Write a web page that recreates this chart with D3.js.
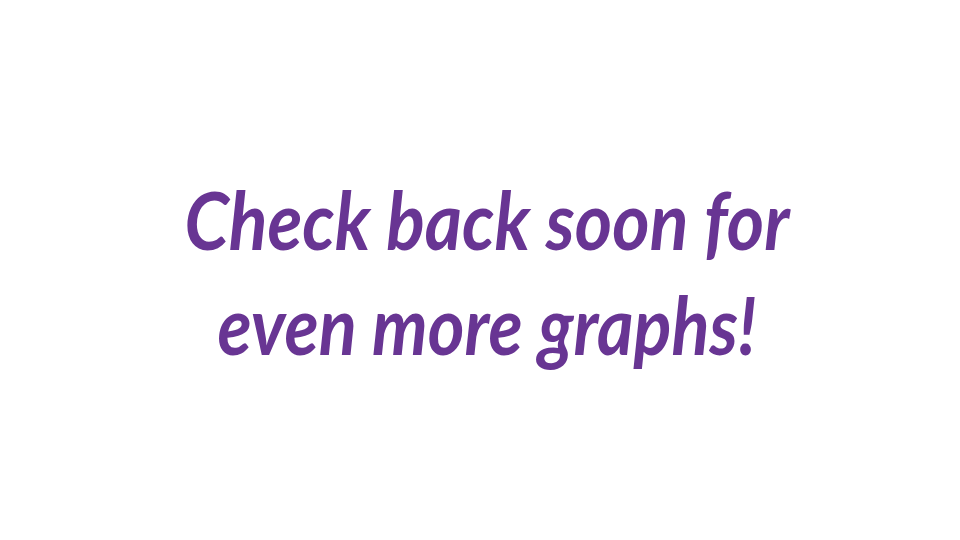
<!DOCTYPE html>
<html>
<head>
<meta charset="utf-8">
<script src="https://cdn.jsdelivr.net/npm/d3@7"></script>
<style>
  body { margin: 0; background: #fff; }
</style>
</head>
<body>
<div class="chart"></div>
<script>
var width = 960;
var height = 540;

// the message lines and where each one sits
var lines = ['Check back soon for', 'even more graphs!'];
var lineWidths = [605, 539];

var svg = d3.select('.chart')
  .append('svg')
    .attr('width', width)
    .attr('height', height);

// baselines spread over the lines with a band scale
var yScale = d3.scalePoint()
  .domain(lines)
  .range([250, 355]);

svg.selectAll('text')
  .data(lines)
  .enter()
  .append('text')
    .attr('x', 487)
    .attr('y', d => yScale(d))
    .attr('text-anchor', 'middle')
    .attr('textLength', (d, i) => lineWidths[i])
    .attr('lengthAdjust', 'spacingAndGlyphs')
    .style('font-family', 'Lato, "Open Sans", sans-serif')
    .style('font-style', 'italic')
    .style('font-weight', 'bold')
    .style('font-size', '80px')
    .style('fill', '#683593')
    .text(d => d);
</script>
</body>
</html>
